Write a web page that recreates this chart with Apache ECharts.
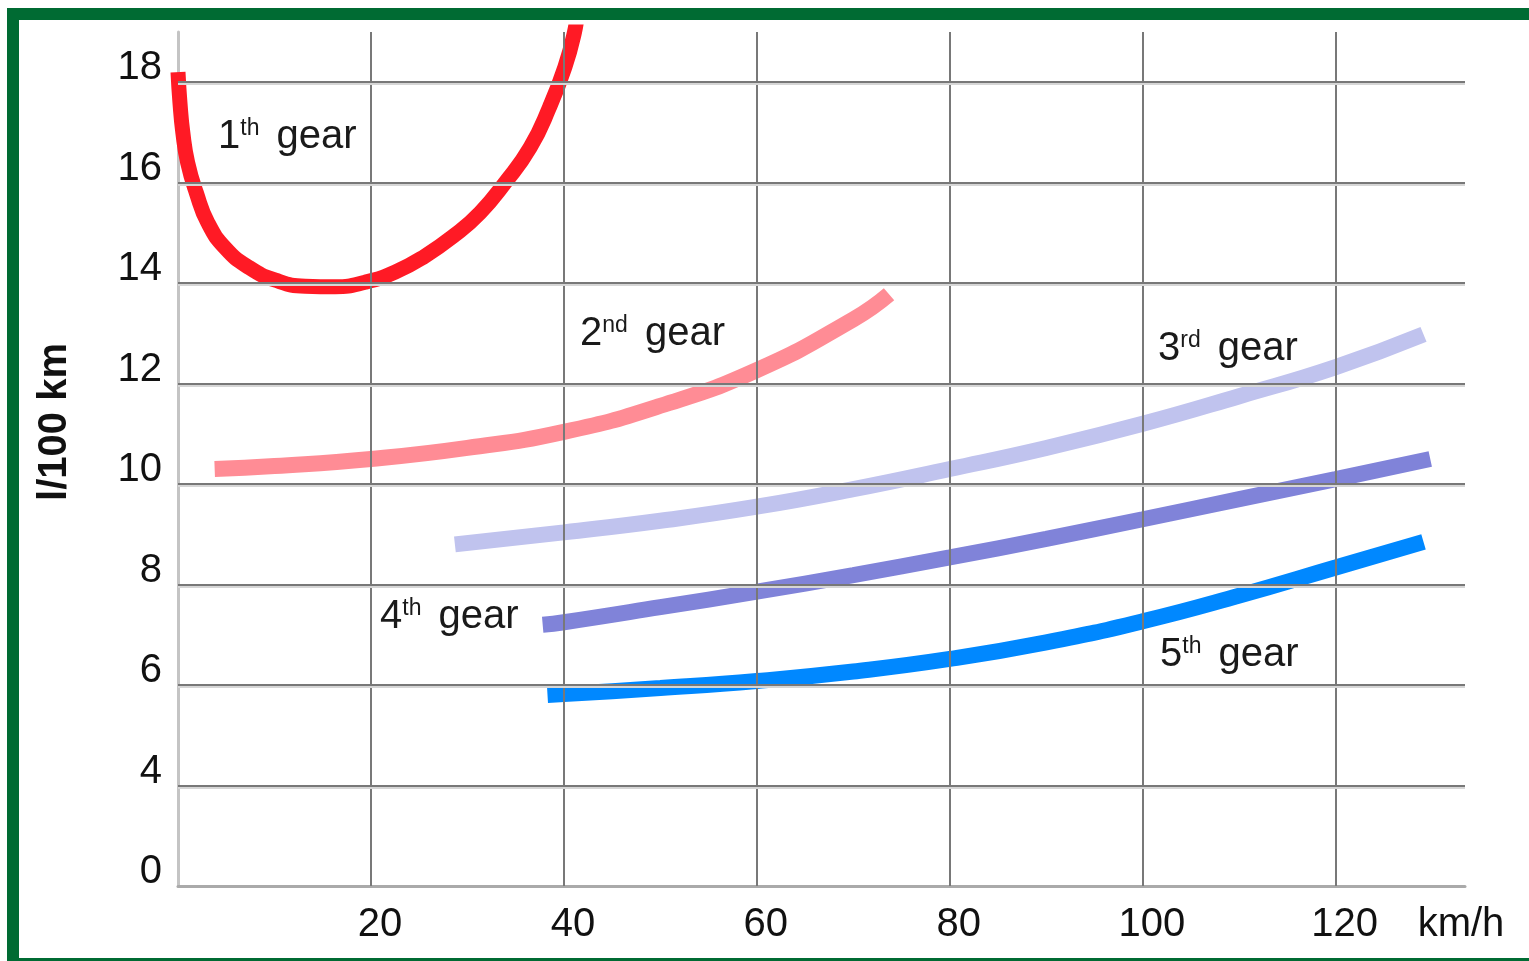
<!DOCTYPE html>
<html>
<head>
<meta charset="utf-8">
<script src="https://cdn.jsdelivr.net/npm/echarts@6/dist/echarts.min.js"></script>
<style>
  html, body { margin: 0; padding: 0; background: #ffffff; }
  #chart { width: 1529px; height: 961px; }
</style>
</head>
<body>
<div id="chart"></div>
<script>
// ---- Data (speed km/h, consumption l/100 km) ----
const gear1 = [[0.0,18.2],[0.2,17.6],[0.5,17.0],[1.0,16.4],[1.9,15.8],[3.1,15.2],[4.9,14.7],[7.3,14.32],[10.1,14.06],[13.2,13.94],[16.3,13.93],[19.4,14.02],[22.5,14.22],[25.6,14.54],[28.7,14.96],[31.3,15.4],[33.9,16.0],[36.5,16.7],[38.5,17.5],[40.1,18.3],[41.1,19.0],[41.4,19.4]];
const gear2 = [[3.8,10.3],[10,10.36],[20,10.5],[30,10.72],[40,11.04],[50,11.56],[60,12.27],[70,13.28],[73.7,13.78]];
const gear3 = [[28.7,8.8],[40,9.04],[50,9.27],[60,9.55],[70,9.9],[80,10.3],[90,10.72],[100,11.2],[110,11.75],[120,12.33],[129.1,12.98]];
const gear4 = [[37.8,7.2],[40,7.25],[50,7.55],[60,7.86],[70,8.19],[80,8.54],[90,8.91],[100,9.3],[110,9.7],[120,10.1],[129.8,10.5]];
const gear5 = [[38.3,5.8],[40,5.82],[50,5.94],[60,6.08],[70,6.27],[80,6.52],[90,6.85],[100,7.27],[110,7.78],[120,8.34],[129.1,8.85]];

const xGridValues = [20, 40, 60, 80, 100, 120];
const yGridValues = [4, 6, 8, 10, 12, 14, 16, 18];
const gearNames = [['1', 'th'], ['2', 'nd'], ['3', 'rd'], ['4', 'th'], ['5', 'th']];
const xAxisName = 'km/h';
const yAxisName = 'l/100 km';

// ---- Chart ----
const FONT = '"Liberation Sans", Arial, sans-serif';
const chart = echarts.init(document.getElementById('chart'), null, { renderer: 'canvas' });

function curve(data, color, width) {
  return {
    type: 'line', data: data, smooth: 0.5, showSymbol: false, symbol: 'none',
    z: 3, animation: false, silent: true,
    lineStyle: { color: color, width: width, cap: 'butt' },
    emphasis: { disabled: true }
  };
}

function gearLabel(i, x, y) {
  const g = gearNames[i];
  return {
    type: 'text', x: x, y: y, z: 10, silent: true,
    style: {
      text: '{n|' + g[0] + '}{s|' + g[1] + '}{n| gear}',
      verticalAlign: 'middle',
      fill: '#1a1a1a',
      rich: {
        n: { fontSize: 40, fontFamily: FONT, fill: '#1a1a1a' },
        s: { fontSize: 23, fontFamily: FONT, fill: '#1a1a1a', verticalAlign: 'top', padding: [0, 6, 0, 0] }
      }
    }
  };
}

const green = '#006b33';

const option = {
  backgroundColor: '#ffffff',
  animation: false,
  textStyle: { fontFamily: FONT },
  grid: { left: 178, top: 32, right: 64, bottom: 75, containLabel: false },
  xAxis: {
    type: 'value', min: 0, max: 133.4, interval: 20,
    name: xAxisName, nameLocation: 'end', nameGap: -4,
    nameTextStyle: { fontSize: 40, color: '#111', fontFamily: FONT, align: 'center', verticalAlign: 'top', lineHeight: 40, padding: [19, 0, 0, 0] },
    axisLine: { show: true, lineStyle: { color: '#aaaaaa', width: 3 } },
    axisTick: { show: false },
    splitLine: { show: false },
    axisLabel: { showMinLabel: false, showMaxLabel: false, fontSize: 40, color: '#111', fontFamily: FONT, margin: 19, lineHeight: 40, padding: [0, 0, 0, 18] }
  },
  yAxis: {
    type: 'value', min: 2, max: 19, interval: 2,
    name: yAxisName, nameLocation: 'middle', nameGap: 103, nameRotate: 90,
    nameTextStyle: { fontSize: 40, fontWeight: 'bold', color: '#111', fontFamily: FONT, padding: [0, 0, 0, 74] },
    axisLine: { show: true, lineStyle: { color: '#c4c4c4', width: 3 } },
    axisTick: { show: false },
    splitLine: { show: false },
    axisLabel: {
      showMaxLabel: false, fontSize: 40, color: '#111', fontFamily: FONT, margin: 16,
      verticalAlign: 'bottom', lineHeight: 28,
      formatter: function (v) { return v === 2 ? '0' : String(v); }
    }
  },
  series: [
    {
      type: 'line', data: [], z: 1, silent: true, animation: false,
      markLine: {
        silent: true, animation: false, symbol: ['none', 'none'],
        label: { show: false },
        emphasis: { disabled: true },
        lineStyle: { color: '#787878', width: 2, type: 'solid' },
        data: xGridValues.map(function (v) { return { xAxis: v }; })
          .concat(yGridValues.map(function (v) { return { yAxis: v, lineStyle: { shadowColor: '#d6d6d6', shadowOffsetY: 2, shadowBlur: 0 } }; }))
      }
    },
    curve(gear1, '#ff1a25', 15),
    curve(gear2, '#ff8c95', 16),
    curve(gear3, '#c0c3ee', 16),
    curve(gear4, '#8083d9', 16),
    curve(gear5, '#0088ff', 16)
  ],
  graphic: [
    { type: 'rect', shape: { x: 7, y: 8, width: 1522, height: 12 }, style: { fill: green }, z: 20, silent: true },
    { type: 'rect', shape: { x: 7, y: 8, width: 12, height: 953 }, style: { fill: green }, z: 20, silent: true },
    { type: 'rect', shape: { x: 7, y: 958, width: 1522, height: 3 }, style: { fill: green }, z: 20, silent: true },
    gearLabel(0, 218, 137),
    gearLabel(1, 580, 334),
    gearLabel(2, 1158, 349),
    gearLabel(3, 380, 617),
    gearLabel(4, 1160, 655)
  ]
};

chart.setOption(option);
</script>
</body>
</html>
